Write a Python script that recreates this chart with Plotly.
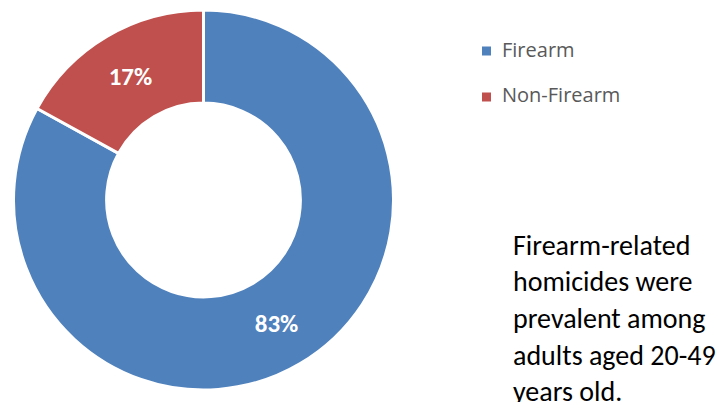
import plotly.graph_objects as go

categories = ["Firearm", "Non-Firearm"]
values = [83, 17]
colors = ["#4F81BD", "#C0504D"]
note_lines = ["Firearm-related", "homicides were", "prevalent among", "adults aged 20-49", "years old."]

# the page body adds an 8px margin, so the figure is 8px smaller and
# reference positions are shifted by OFF
W, H = 718, 394
OFF = 8


def px(x):
    return (x - OFF) / W


def py(y):
    return 1 - (y - OFF) / H


fig = go.Figure()
fig.add_trace(go.Pie(
    labels=categories,
    values=values,
    hole=0.51,
    sort=False,
    direction="clockwise",
    rotation=0,
    marker=dict(colors=colors, line=dict(color="white", width=3)),
    textinfo="percent",
    texttemplate="%{percent:.0%}",
    textposition="inside",
    insidetextorientation="horizontal",
    textfont=dict(family="Carlito, Lato, sans-serif", size=25, color="white", weight="bold"),
    domain=dict(x=[px(13.5), px(393.5)], y=[py(390), py(10)]),
    showlegend=False,
    hoverinfo="label+percent",
))

shapes = []
annotations = []
# legend (drawn from the category arrays)
leg_x0, leg_y0, leg_dy = 482, 51, 46
for i, (cat, col) in enumerate(zip(categories, colors)):
    cy = leg_y0 + i * leg_dy
    shapes.append(dict(type="rect", xref="paper", yref="paper",
                       x0=px(leg_x0), x1=px(leg_x0 + 9),
                       y0=py(cy + 4.5), y1=py(cy - 4.5),
                       fillcolor=col, line=dict(width=0)))
    annotations.append(dict(text=cat, xref="paper", yref="paper",
                            x=px(500), y=py(cy - 2),
                            xanchor="left", yanchor="middle", showarrow=False,
                            font=dict(family="Open Sans, sans-serif", size=20, color="#595959")))

# side note
note_y0, note_dy = 245, 36.7
for i, line in enumerate(note_lines):
    annotations.append(dict(text=line, xref="paper", yref="paper",
                            x=px(511), y=py(note_y0 + i * note_dy),
                            xanchor="left", yanchor="middle", showarrow=False,
                            font=dict(family="Carlito, Lato, sans-serif", size=28, color="black")))

fig.update_layout(
    width=W, height=H,
    margin=dict(l=0, r=0, t=0, b=0),
    paper_bgcolor="white",
    plot_bgcolor="white",
    shapes=shapes,
    annotations=annotations,
)

fig.write_html("out.html")
